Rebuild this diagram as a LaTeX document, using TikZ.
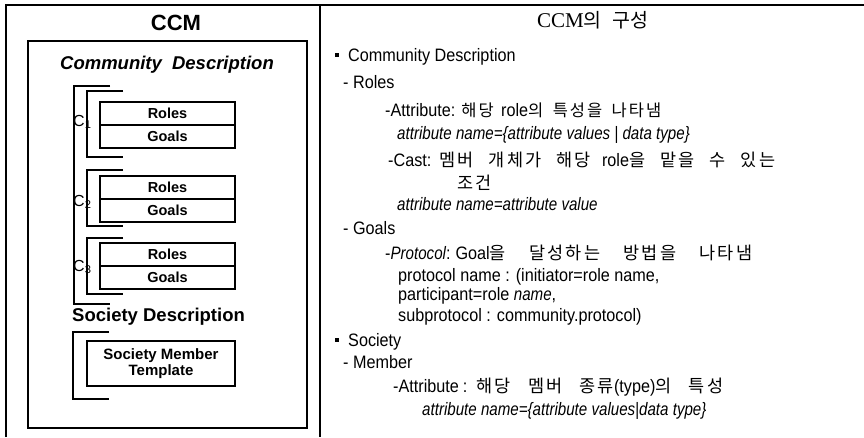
\documentclass[tikz,border=0pt]{standalone}
\usepackage{fontspec}
\setmainfont{Liberation Sans}
\newfontfamily\narrowsans[FakeStretch=0.9]{Liberation Sans}
\newfontfamily\narrowital[FakeStretch=0.84]{Liberation Sans}
\newfontfamily\serifface{Liberation Serif}
\newfontfamily\hangul[LetterSpace=12]{Noto Sans CJK KR}
\newfontfamily\hangultitle[WordSpace=2.5]{Noto Sans CJK KR}
\newcommand\ko[1]{{\hangul\fontsize{17.5}{20}\selectfont #1}}
\newcommand\kosmall[1]{{\hangul\fontsize{16.5}{20}\selectfont #1}}
\newcommand\itx[1]{{\narrowital\itshape #1}}
% a line whose word spaces are stretched to a given width
\newcommand\spread[2]{\makebox[#1][s]{#2}}
% a fixed gap that does not stretch
\newcommand\fixgap[1]{\hspace{#1}}

\begin{document}
\begin{tikzpicture}[x=1pt,y=-1pt,
  rule/.style={line width=1.1pt},
  bracketline/.style={line width=1.3pt},
  cellbox/.style={draw, line width=1.1pt, minimum width=135pt, minimum height=23pt,
    inner sep=0pt, font=\bfseries\fontsize{14.5}{16}\selectfont},
  rtext/.style={anchor=base west, inner sep=0pt, font=\narrowsans\fontsize{18}{20}\selectfont},
  bulletmark/.style={fill, minimum size=4.5pt, inner sep=0pt},
  clabel/.style={anchor=west, inner sep=0pt, font=\fontsize{16}{18}\selectfont},
]
\useasboundingbox (0,0) rectangle (864,437);

% table frame and column divider
\coordinate (tl) at (6,5);
\coordinate (tr) at (864,5);
\coordinate (bl) at (6,437);
\coordinate (dt) at (320,5);
\coordinate (db) at (320,437);
\draw[rule] (bl) -- (tl) -- (tr);
\draw[rule] (dt) -- (db);

% ---------------- left column: CCM structure ----------------
\node[font=\bfseries\fontsize{22}{24}\selectfont] (ccm) at (176,23) {CCM};
\node[draw, line width=1.8pt, minimum width=279pt, minimum height=387pt, inner sep=0pt]
  (inner) at (167.5,234.5) {};
\node[font=\bfseries\itshape\fontsize{18.5}{20}\selectfont] (commdesc) at (167,65)
  {Community\hspace{0.55em}Description};

% community brackets
\draw[bracketline] (110,86) -- (74,86) -- (74,304) -- (110,304);
\draw[bracketline] (123,91) -- (87,91) -- (87,157) -- (123,157);
\draw[bracketline] (123,170) -- (87,170) -- (87,226) -- (123,226);
\draw[bracketline] (123,238) -- (87,238) -- (87,294) -- (123,294);

% roles / goals pairs
\node[cellbox] (roles1) at (167.5,113.5) {Roles};
\node[cellbox] (goals1) at (167.5,136.5) {Goals};
\node[cellbox] (roles2) at (167.5,187.5) {Roles};
\node[cellbox] (goals2) at (167.5,210.5) {Goals};
\node[cellbox] (roles3) at (167.5,254.5) {Roles};
\node[cellbox] (goals3) at (167.5,277.5) {Goals};

\node[clabel] (c1) at (73,122) {C\textsubscript{1}};
\node[clabel] (c2) at (73,202) {C\textsubscript{2}};
\node[clabel] (c3) at (73,267) {C\textsubscript{3}};

% society part
\node[anchor=west, inner sep=0pt, font=\bfseries\fontsize{18.5}{20}\selectfont]
  (socdesc) at (72,317) {Society Description};
\draw[bracketline] (109,332) -- (73,332) -- (73,399) -- (109,399);
\node[draw, line width=1.1pt, minimum width=148pt, minimum height=45pt, align=center,
  inner sep=0pt, font=\bfseries\fontsize{15}{16}\selectfont] (member) at (161,363.5)
  {Society Member\\Template};

% ---------------- right column: description ----------------
\node[anchor=base west, inner sep=0pt] (title) at (537,27)
  {{\serifface\fontsize{21}{22}\selectfont CCM}{\hangultitle\fontsize{19.5}{20}\selectfont 의 구성}};

\node[bulletmark] (b1) at (337,55) {};
\node[rtext] (l1) at (348,61) {Community Description};
\node[rtext] (l2) at (343,88) {- Roles};
\node[rtext] (l3) at (385,116)
  {\spread{276pt}{-Attribute:\fixgap{6pt}\kosmall{해당} role\kosmall{의 특성을 나타냄}}};
\node[rtext] (l4) at (397,139) {\itx{attribute name=\{attribute values | data type\}}};
\node[rtext] (l5) at (388,166)
  {\spread{387pt}{-Cast:\fixgap{8pt}\ko{멤버 개체가 해당} role\ko{을 맡을 수 있는}}};
\node[rtext] (l6) at (457,189) {\ko{조건}};
\node[rtext] (l7) at (397,210) {\itx{attribute name=attribute value}};
\node[rtext] (l8) at (343,234) {- Goals};
\node[rtext] (l9) at (385,259)
  {\spread{367pt}{-\itx{Protocol}:\fixgap{5pt}Goal\ko{을 달성하는 방법을 나타냄}}};
\node[rtext] (l10) at (398,281) {protocol name : (initiator=role name,};
\node[rtext] (l11) at (398,300) {participant=role \itx{name},};
\node[rtext] (l12) at (398,321) {subprotocol : community.protocol)};
\node[bulletmark] (b2) at (337,340) {};
\node[rtext] (l13) at (348,346) {Society};
\node[rtext] (l14) at (343,368) {- Member};
\node[rtext] (l15) at (393,392)
  {\spread{330pt}{-Attribute\fixgap{4pt}:\fixgap{9pt}\ko{해당 멤버 종류}(type)\ko{의 특성}}};
\node[rtext] (l16) at (422,415) {\itx{attribute name=\{attribute values|data type\}}};
\end{tikzpicture}
\end{document}
